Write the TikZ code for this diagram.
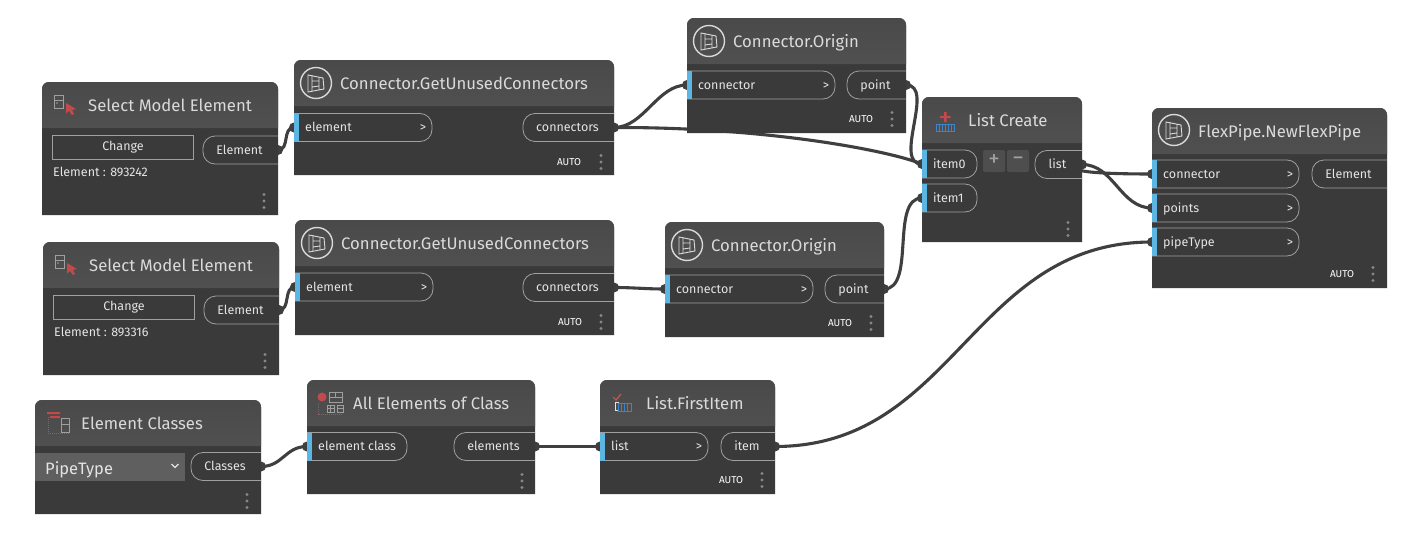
\documentclass[tikz,border=0pt]{standalone}
\usepackage{fontspec}
\setmainfont{Fira Sans}
\usetikzlibrary{calc}
\pgfdeclarelayer{paper}
\pgfdeclarelayer{wires}
\pgfsetlayers{paper,wires,main}
\definecolor{bodyc}{HTML}{3A3A3A}
\definecolor{headc}{HTML}{505050}
\definecolor{wirec}{HTML}{3F3F3F}
\definecolor{portc}{HTML}{A0A0A0}
\definecolor{textc}{HTML}{E4E4E4}
\definecolor{titlec}{HTML}{DADADA}
\definecolor{bluec}{HTML}{5CB6E4}
\definecolor{redc}{HTML}{C24A4A}
\definecolor{iconb}{HTML}{3D85C6}
\definecolor{dropc}{HTML}{5F5F5F}
\definecolor{btnc}{HTML}{4E4E4E}
\tikzset{
  x=1pt,y=-1pt,
  bodybox/.style={inner sep=0,outer sep=0},
  portbox/.style={inner sep=0,outer sep=0,minimum height=28pt},
  portline/.style={draw=portc,line width=.8pt,rounded corners=12pt},
  ptext/.style={text=textc,font=\fontsize{12.5}{14}\selectfont,inner sep=0,text height=9pt,text depth=3pt,yshift=-1pt},
  titletext/.style={text=titlec,font=\fontsize{16.7}{18}\selectfont,inner sep=0,anchor=west,text height=12pt,text depth=4pt,yshift=-2pt},
  autotext/.style={text=white,font=\fontsize{10}{11}\selectfont,inner sep=0},
  wire/.style={draw=wirec,line width=3.1pt},
  kebab/.style={fill=portc!85!black},
  plusbtn/.style={fill=btnc,inner sep=0,minimum width=22pt,minimum height=22pt,rounded corners=2pt,text=portc,font=\fontsize{23}{23}\selectfont},
}
% name x1 y1 x2 y2 header-bottom title-x title
\newcommand\dyn[8]{%
  \node[bodybox,minimum width={(#4-#2)*1pt},minimum height={(#5-#3)*1pt}] (#1) at ({(#2+#4)/2},{(#3+#5)/2}) {};
  \fill[bodyc] (#2,#5) [rounded corners=7pt] -- (#2,#3) -- (#4,#3) [sharp corners] -- (#4,#5) -- cycle;
  \shade[top color=headc!92!black,bottom color=headc!100!white] (#2,#6) [rounded corners=7pt] -- (#2,#3) -- (#4,#3) [sharp corners] -- (#4,#6) -- cycle;
  \node[titletext] (#1-title) at (#7,{(#3+#6)/2}) {#8};
}
% name x1 x2 yc label chevron
\newcommand\inport[6]{%
  \node[portbox,minimum width={(#3-#2)*1pt}] (#1) at ({(#2+#3)/2},#4) {};
  \draw[portline] (#1.north west) -- (#1.north east) -- (#1.south east) -- (#1.south west);
  \fill[bluec] (#1.north west) rectangle ([xshift=5pt]#1.south west);
  \node[ptext,anchor=west] (#1-l) at ([xshift=11pt]#1.west) {#5};
  \node[ptext] (#1-c) at ([xshift=-9pt]#1.east) {#6};
}
% name x1 x2 yc label
\newcommand\outport[5]{%
  \node[portbox,minimum width={(#3-#2)*1pt}] (#1) at ({(#2+#3)/2},#4) {};
  \draw[portline] (#1.north east) -- (#1.north west) -- (#1.south west) -- (#1.south east);
  \node[ptext] (#1-l) at ([xshift=-1pt]#1.center) {#5};
}
\newcommand\kebabs[2]{\foreach \d in {-6.5,0,6.5} \fill[kebab] (#1,#2+\d) circle (1.6pt);}
\newcommand\autolabel[3]{\node[autotext] (#1) at (#2,#3) {AUTO};}
\newcommand\wiredot[1]{\fill[wirec] (#1) circle (5pt);}
\newcommand\circicon[2]{%
  \begin{scope}[shift={(#1,#2)}]
    \draw[titlec,line width=1.4pt] (0,0) circle (15.5pt);
    \draw[titlec,line width=.9pt] (-8,-8) -- (7,-5) -- (8,6) -- (-8,9) -- cycle;
    \draw[titlec,line width=.9pt] (-4,-8) -- (-4,8) (3,-6) -- (3,7) (-4,-2) -- (3,-2) (-4,4) -- (3,3);
  \end{scope}}
\newcommand\selicon[2]{%
  \begin{scope}[shift={(#1,#2)}]
    \draw[gray!75,line width=.9pt] (0,0) rectangle (9,13) (0,5) -- (9,5);
    \fill[gray!75] (3,8) circle (.9pt);
    \fill[redc] (12,8) -- (12,18.5) -- (15,16) -- (18,20) -- (20,19) -- (18,15) -- (22,14) -- cycle;
  \end{scope}}
\newcommand\selectnode[7]{% name x y changeName outname valuename value
  \dyn{#1}{#2}{#3}{\the\numexpr#2+236\relax}{\the\numexpr#3+133\relax}{\the\numexpr#3+46\relax}{\the\numexpr#2+46\relax}{Select Model Element}
  \selicon{\the\numexpr#2+12\relax}{\the\numexpr#3+13\relax}
  \node[draw=portc,line width=.8pt,inner sep=0,minimum width=141pt,minimum height=24pt,text=textc,font=\fontsize{12.5}{14}\selectfont] (#4) at (\the\numexpr#2+81\relax,\the\numexpr#3+65\relax) {Change};
  \outport{#5}{\the\numexpr#2+161\relax}{\the\numexpr#2+236\relax}{\the\numexpr#3+68\relax}{Element}
  \node[ptext,anchor=west] (#6) at (\the\numexpr#2+11\relax,\the\numexpr#3+90\relax) {#7};
  \kebabs{\the\numexpr#2+222\relax}{\the\numexpr#3+119\relax}
}
\begin{document}
\begin{tikzpicture}
\useasboundingbox (0,0) rectangle (1422,546);
\begin{pgfonlayer}{paper}
\fill[white] (0,0) rectangle (1422,546);
\end{pgfonlayer}
% Select nodes
\selectnode{sel1}{42}{82}{chg1}{sel1out}{sel1v}{Element : 893242}
\selectnode{sel2}{43}{242}{chg2}{sel2out}{sel2v}{Element : 893316}
% GetUnused 1
\dyn{gu1}{294}{60}{614}{175}{106}{340}{Connector.GetUnusedConnectors}
\circicon{316}{83}
\inport{gu1in}{294}{432}{127.5}{element}{>}
\outport{gu1out}{523}{614}{127.5}{connectors}
\autolabel{gu1a}{569}{162}\kebabs{601}{162}
% GetUnused 2
\dyn{gu2}{295}{220}{614}{335}{266}{341}{Connector.GetUnusedConnectors}
\circicon{317}{243}
\inport{gu2in}{295}{433}{287}{element}{>}
\outport{gu2out}{523}{614}{287.5}{connectors}
\autolabel{gu2a}{570}{322}\kebabs{601}{322}
% Origin 1
\dyn{or1}{687}{18}{906}{133}{64}{733}{Connector.Origin}
\circicon{709}{41}
\inport{or1in}{687}{835}{85}{connector}{>}
\outport{or1out}{847}{906}{85}{point}
\autolabel{or1a}{861}{119}\kebabs{892}{119}
% Origin 2
\dyn{or2}{665}{222}{884}{337}{268}{711}{Connector.Origin}
\circicon{687}{245}
\inport{or2in}{665}{813}{289}{connector}{>}
\outport{or2out}{825}{884}{289}{point}
\autolabel{or2a}{840}{323}\kebabs{871}{323}
% List create
\dyn{lc}{922}{97}{1082}{242}{143}{968}{List Create}
\fill[redc] (944,112) rectangle (946.5,122) (940,115.8) rectangle (950.5,118.2);
\draw[iconb,line width=1pt] (936,124) rectangle (954,131) (939,124) -- (939,131) (942,124) -- (942,131) (945,124) -- (945,131) (948,124) -- (948,131) (951,124) -- (951,131);
\inport{lci0}{922}{977}{164}{item0}{}
\inport{lci1}{922}{977}{198}{item1}{}
\node[plusbtn] (lcp) at (994,161) {\raisebox{-2pt}{+}};
\node[plusbtn] (lcm) at (1018,161) {\raisebox{-3.5pt}{−}};
\outport{lcout}{1035}{1082}{164.5}{list}
\kebabs{1068}{229}
% FlexPipe
\dyn{fp}{1152}{108}{1387}{288}{154}{1198}{FlexPipe.NewFlexPipe}
\circicon{1174}{130}
\inport{fpc}{1152}{1299}{174}{connector}{>}
\inport{fpp}{1152}{1299}{208}{points}{>}
\inport{fpt}{1152}{1299}{242}{pipeType}{>}
\outport{fpout}{1312}{1387}{174}{Element}
\autolabel{fpa}{1342}{274}\kebabs{1373}{274}
% Element classes
\dyn{ec}{35}{400}{261}{514}{446}{81}{Element Classes}
\draw[redc,line width=1pt,densely dotted] (48,417) -- (48,433) -- (70,433);
\fill[redc] (47,412) rectangle (60,414) (50,416) rectangle (60,418);
\draw[gray!75,line width=.9pt] (61,418) rectangle (69,432) (61,424) -- (69,424);
\node[fill=dropc,inner sep=0,minimum width=150pt,minimum height=28pt] (ecd) at (110,467) {};
\node[text=textc,inner sep=0,anchor=west,font=\fontsize{16.5}{18}\selectfont] (ecdt) at (45,470) {PipeType};
\draw[textc,line width=1.1pt] (171.5,464) -- (175,467.5) -- (178.5,464);
\outport{ecout}{191}{261}{466.5}{Classes}
\kebabs{247}{501}
% All elements
\dyn{ae}{307}{380}{535}{494}{426}{353}{All Elements of Class}
\fill[redc] (322,397) circle (4.5pt);
\draw[redc,line width=1pt,densely dotted] (318,403) -- (318,414) -- (342,414);
\draw[gray!75,line width=.9pt] (329,392) rectangle (342,402) (329,397) -- (342,397) (335,392) -- (335,397);
\draw[gray!75,line width=.9pt] (327,405) rectangle (334,412) (330.5,405) -- (330.5,412) (327,408.5) -- (334,408.5) (337,405) rectangle (343,412) (337,408) -- (343,408);
\inport{aein}{307}{407}{446.5}{element class}{}
\outport{aeout}{454}{535}{446.5}{elements}
\kebabs{522}{481}
% First item
\dyn{fi}{600}{380}{775}{494}{426}{646}{List.FirstItem}
\draw[redc!75!gray,line width=1.4pt] (613,397) -- (616,400) -- (621,394);
\draw[textc,line width=.9pt] (615,402) rectangle (618,410);
\draw[iconb,line width=1pt] (618,403) rectangle (631,411) (621,403) -- (621,411) (624,403) -- (624,411) (627,403) -- (627,411);
\inport{fiin}{600}{708}{446.5}{list}{>}
\outport{fiout}{721}{775}{446.5}{item}
\autolabel{fia}{731}{480}\kebabs{762}{480}
% Connectors
\begin{pgfonlayer}{wires}
\draw[wire] (sel1out.east) .. controls +(12,0) and +(-12,0) .. (gu1in.west);
\draw[wire] (sel2out.east) .. controls +(12,0) and +(-12,0) .. (gu2in.west);
\draw[wire] (gu1out.east) .. controls +(30,0) and +(-30,0) .. (or1in.west);
\draw[wire] (gu1out.east) .. controls +(150,-.5) and +(-35,-14) .. (lci0.west);
\draw[wire] (gu2out.east) .. controls +(20,0) and +(-20,0) .. (or2in.west);
\draw[wire] (or1out.east) .. controls +(30,0) and +(-30,0) .. (lci0.west);
\draw[wire] (or2out.east) .. controls +(32,0) and +(-32,0) .. (lci1.west);
\draw[wire] (lcout.east) .. controls +(-24,8) and +(-40,0) .. (fpc.west);
\draw[wire] (lcout.east) .. controls +(32,0) and +(-32,0) .. (fpp.west);
\draw[wire] (fiout.east) .. controls +(180,0) and +(-180,0) .. (fpt.west);
\draw[wire] (ecout.east) .. controls +(22,0) and +(-22,0) .. (aein.west);
\draw[wire] (aeout.east) .. controls +(20,0) and +(-20,0) .. (fiin.west);
\foreach \p in {sel1out.east,sel2out.east,gu1out.east,gu2out.east,or1out.east,or2out.east,lcout.east,fiout.east,ecout.east,aeout.east,
  gu1in.west,gu2in.west,or1in.west,or2in.west,lci0.west,lci1.west,fpc.west,fpp.west,fpt.west,aein.west,fiin.west}
  {\wiredot{\p}}
\end{pgfonlayer}
\end{tikzpicture}
\end{document}
